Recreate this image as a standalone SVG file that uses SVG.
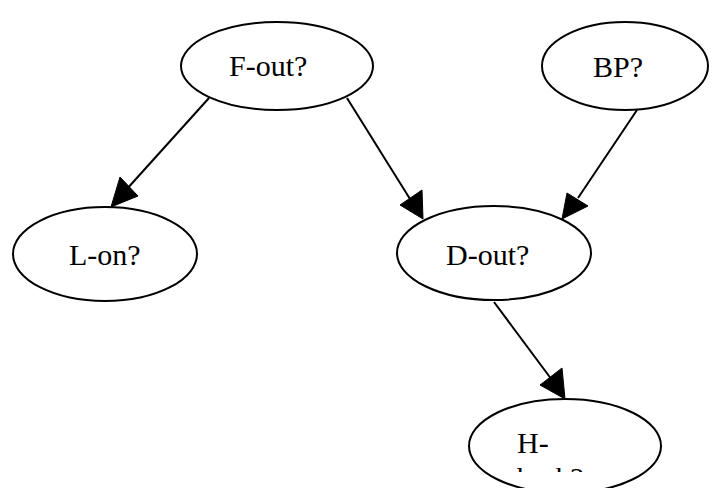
<svg xmlns="http://www.w3.org/2000/svg" width="723" height="488" viewBox="0 0 723 488">
  <style>
    .node ellipse { fill: #ffffff; stroke: #000000; stroke-width: 2; }
    .node text { font-family: "Liberation Serif", "Times New Roman", serif; font-size: 30px; fill: #000000; }
    .edge line { stroke: #000000; stroke-width: 2; }
    .edge polygon { fill: #000000; stroke: #000000; stroke-width: 1; }
  </style>
  <defs>
    <clipPath id="label-clip">
      <rect x="0" y="0" width="723" height="472"/>
    </clipPath>
  </defs>
  <rect width="723" height="488" fill="#ffffff"/>

  <g id="edges" class="edge">
    <!-- F-out? -> L-on? -->
    <line x1="209" y1="98" x2="126" y2="190"/>
    <polygon points="111,207 120,177 138,196"/>
    <!-- F-out? -> D-out? -->
    <line x1="347" y1="98" x2="410" y2="199"/>
    <polygon points="423,219 400,205 422,190"/>
    <!-- BP? -> D-out? -->
    <line x1="637" y1="110" x2="578" y2="198"/>
    <polygon points="562,219 567,193 588,206"/>
    <!-- D-out? -> H-bark? -->
    <line x1="494" y1="302" x2="552" y2="380"/>
    <polygon points="565,399 540,385 562,368"/>
  </g>

  <g id="node-fout" class="node">
    <ellipse cx="277" cy="66" rx="96" ry="44"/>
    <text x="229" y="76">F-out?</text>
  </g>
  <g id="node-bp" class="node">
    <ellipse cx="625" cy="66" rx="83" ry="44"/>
    <text x="593" y="77">BP?</text>
  </g>
  <g id="node-lon" class="node">
    <ellipse cx="105" cy="254" rx="92" ry="47"/>
    <text x="69" y="265">L-on?</text>
  </g>
  <g id="node-dout" class="node">
    <ellipse cx="494" cy="253" rx="97" ry="47"/>
    <text x="446" y="265">D-out?</text>
  </g>
  <g id="node-hbark" class="node">
    <ellipse cx="565" cy="446" rx="96" ry="47"/>
    <g clip-path="url(#label-clip)">
      <text x="517" y="453">H-</text>
      <text x="517" y="488">bark?</text>
    </g>
  </g>
</svg>
